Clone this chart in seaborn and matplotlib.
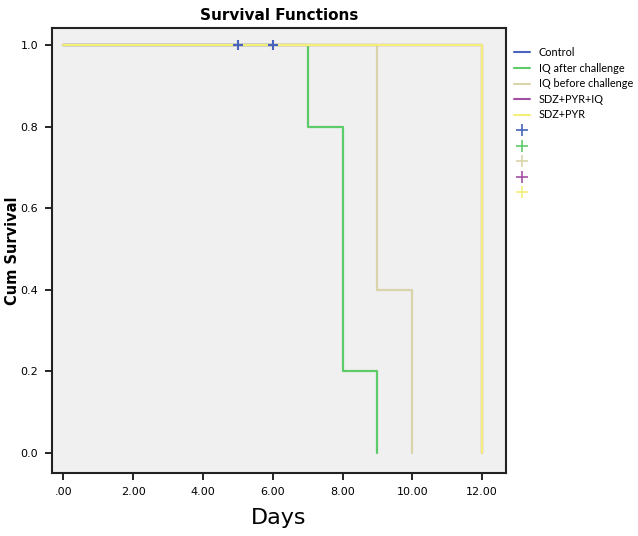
import matplotlib
matplotlib.use('Agg')
import matplotlib.pyplot as plt
import seaborn as sns
import pandas as pd
from matplotlib.lines import Line2D

sns.set_style('ticks')
plt.rcParams['font.family'] = ['DejaVu Sans']
plt.rcParams['text.color'] = 'black'
plt.rcParams['axes.labelcolor'] = 'black'
plt.rcParams['xtick.color'] = 'black'
plt.rcParams['ytick.color'] = 'black'

# survival steps per group (time, cum survival)
groups = ['Control', 'IQ after challenge', 'IQ before challenge', 'SDZ+PYR+IQ', 'SDZ+PYR']
times = {
    'Control': [0, 6],
    'IQ after challenge': [0, 7, 8, 9],
    'IQ before challenge': [0, 9, 10],
    'SDZ+PYR+IQ': [0, 12],
    'SDZ+PYR': [0, 12],
}
surv = {
    'Control': [1.0, 1.0],
    'IQ after challenge': [1.0, 0.8, 0.2, 0.0],
    'IQ before challenge': [1.0, 0.4, 0.0],
    'SDZ+PYR+IQ': [1.0, 0.0],
    'SDZ+PYR': [1.0, 0.0],
}
# censored observations
cens_group = ['Control', 'Control']
cens_time = [5, 6]
cens_surv = [1.0, 1.0]

colors = {
    'Control': '#4a64bd',
    'IQ after challenge': '#5ccb68',
    'IQ before challenge': '#d9d4aa',
    'SDZ+PYR+IQ': '#a24fa3',
    'SDZ+PYR': '#f4ef78',
}

fig = plt.figure(figsize=(6.38, 5.36), dpi=100)
ax = fig.add_axes([0.0815, 0.1175, 0.7115, 0.8303])
ax.set_facecolor('#f0f0f0')

for g in groups:
    df = pd.DataFrame({'t': times[g], 's': surv[g]})
    sns.lineplot(data=df, x='t', y='s', ax=ax, color=colors[g], estimator=None,
                 sort=False, drawstyle='steps-post', linewidth=1.6)

cens = pd.DataFrame({'t': cens_time, 's': cens_surv, 'g': cens_group})
sns.scatterplot(data=cens, x='t', y='s', ax=ax, marker='+', s=50, linewidth=1.5,
                color=colors['Control'], zorder=5)

ax.set_xlim(-0.32, 12.68)
ax.set_ylim(-0.049, 1.042)
ax.set_xticks([0, 2, 4, 6, 8, 10, 12])
ax.set_xticklabels(['.00', '2.00', '4.00', '6.00', '8.00', '10.00', '12.00'], fontsize=8)
ax.set_yticks([0, 0.2, 0.4, 0.6, 0.8, 1.0])
ax.set_yticklabels(['0.0', '0.2', '0.4', '0.6', '0.8', '1.0'], fontsize=8)
ax.tick_params(direction='out', length=5, width=1.2, color='black', pad=5)
for sp in ax.spines.values():
    sp.set_visible(True)
    sp.set_color('#222222')
    sp.set_linewidth(1.5)

ax.set_xlabel('Days', fontsize=16, labelpad=8)
ax.set_ylabel('Cum Survival', fontsize=10.5, fontweight='bold')
ax.yaxis.set_label_coords(-0.07, 0.5)
ax.set_title('Survival Functions', fontsize=11, fontweight='bold', pad=6)

handles = [Line2D([], [], color=colors[g], lw=1.5) for g in groups]
handles += [Line2D([], [], color=colors[g], lw=0, marker='+', markersize=8,
                   markeredgewidth=1.2) for g in groups]
labels = groups + [''] * 5
leg = fig.legend(handles, labels, loc='upper left', bbox_to_anchor=(0.79, 0.93),
                 frameon=False, prop={'family': 'Lato', 'size': 7.8},
                 handlelength=1.5, labelspacing=0.42, handletextpad=0.8)

fig.savefig('out.png', dpi=100)
